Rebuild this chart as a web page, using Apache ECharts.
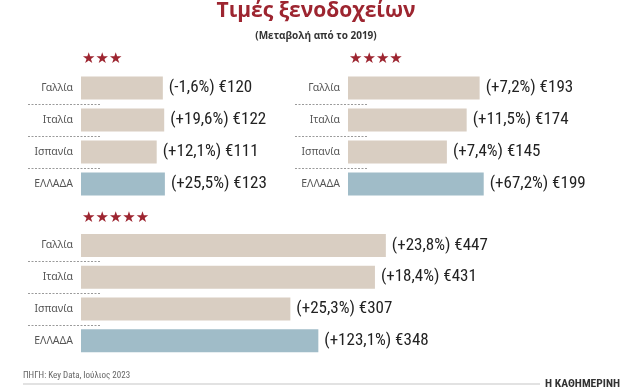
<!DOCTYPE html>
<html>
<head>
<meta charset="utf-8">
<script src="https://cdn.jsdelivr.net/npm/echarts@6/dist/echarts.min.js"></script>
<style>
html,body{margin:0;padding:0;background:#fff;}
#chart{width:624px;height:390px;}
</style>
</head>
<body>
<div id="chart"></div>
<script>
// ---- Data ----
const categories = ['Γαλλία', 'Ιταλία', 'Ισπανία', 'ΕΛΛΑΔΑ'];
const panelStars = ['★★★', '★★★★', '★★★★★'];
const prices3 = [120, 122, 111, 123];
const change3 = ['-1,6%', '+19,6%', '+12,1%', '+25,5%'];
const prices4 = [193, 174, 145, 199];
const change4 = ['+7,2%', '+11,5%', '+7,4%', '+67,2%'];
const prices5 = [447, 431, 307, 348];
const change5 = ['+23,8%', '+18,4%', '+25,3%', '+123,1%'];

const titleText = 'Τιμές ξενοδοχείων';
const subtitleText = '(Μεταβολή από το 2019)';
const sourceText = 'ΠΗΓΗ: Key Data, Ιούλιος 2023';
const brandText = 'Η ΚΑΘΗΜΕΡΙΝΗ';

// ---- Styles ----
const BEIGE = '#d9cec2';
const BLUE = '#a0bcc8';
const RED = '#9d2530';
const NARROW = '"Roboto Condensed", "DejaVu Sans Condensed", sans-serif';
const PX_PER_UNIT = 0.682;

const panels = [
  { left: 81, top: 72, height: 128, max: 300, prices: prices3, change: change3, sepX: [28, 101], starY: 59 },
  { left: 348, top: 72, height: 128, max: 300, prices: prices4, change: change4, sepX: [295, 367], starY: 59 },
  { left: 81, top: 229.5, height: 127, max: 600, prices: prices5, change: change5, sepX: [28, 101], starY: 218 }
];

const grid = [], xAxis = [], yAxis = [], series = [], graphic = [];
panels.forEach((p, i) => {
  grid.push({ left: p.left, top: p.top, width: p.max * PX_PER_UNIT, height: p.height, containLabel: false });
  xAxis.push({ type: 'value', gridIndex: i, min: 0, max: p.max, show: false });
  yAxis.push({
    type: 'category', gridIndex: i, data: categories, inverse: true,
    axisLine: { show: false }, axisTick: { show: false }, splitLine: { show: false },
    axisLabel: { color: '#555', fontSize: 10.5, fontFamily: '"Noto Sans", sans-serif', margin: 8 }
  });
  series.push({
    type: 'bar', xAxisIndex: i, yAxisIndex: i, barWidth: 23,
    data: p.prices.map((v, k) => ({ value: v, itemStyle: { color: k === 3 ? BLUE : BEIGE } })),
    label: {
      show: true, position: 'right', distance: 6, color: '#222', fontSize: 17, fontFamily: NARROW,
      formatter: (d) => '(' + p.change[d.dataIndex] + ') €' + d.value
    },
    silent: true, animation: false
  });
  // dashed separators between rows
  const step = p.height / categories.length;
  for (let k = 1; k < categories.length; k++) {
    const y = Math.round(p.top + step * k) + 0.5;
    graphic.push({ type: 'line', silent: true,
      shape: { x1: p.sepX[0], y1: y, x2: p.sepX[1], y2: y },
      style: { stroke: '#9a9a9a', lineWidth: 1, lineDash: [2, 1.5] } });
  }
  // stars
  graphic.push({ type: 'text', x: p.left + 1, y: p.starY,
    style: { text: panelStars[i], fill: RED, font: '15px "DejaVu Sans", sans-serif', verticalAlign: 'middle', align: 'left' } });
});

// title & footer
graphic.push({ type: 'text', x: 316, y: 1, style: { text: titleText, fill: RED, font: 'bold 21px "Open Sans", sans-serif', align: 'center', verticalAlign: 'top' } });
graphic.push({ type: 'text', x: 316, y: 36, style: { text: subtitleText, fill: '#333', font: 'bold 10px "Open Sans", sans-serif', align: 'center', verticalAlign: 'middle' } });
graphic.push({ type: 'text', x: 23, y: 376, style: { text: sourceText, fill: '#666', font: '9px "Roboto Condensed", sans-serif', align: 'left', verticalAlign: 'middle' } });
graphic.push({ type: 'line', silent: true, shape: { x1: 23, y1: 384, x2: 540, y2: 384 }, style: { stroke: '#e2e2e2', lineWidth: 2 } });
graphic.push({ type: 'text', x: 620, y: 384, style: { text: brandText, fill: '#333', font: 'bold 11.5px "Roboto Condensed", sans-serif', align: 'right', verticalAlign: 'middle' } });

const chart = echarts.init(document.getElementById('chart'), null, { renderer: 'canvas' });
chart.setOption({ animation: false, backgroundColor: '#fff', grid, xAxis, yAxis, series, graphic });
</script>
</body>
</html>
